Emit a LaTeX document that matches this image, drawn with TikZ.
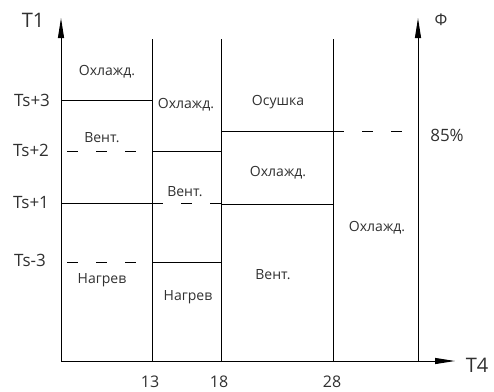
\documentclass[tikz,border=0pt]{standalone}
\usepackage{fontspec}
\setmainfont{Open Sans}
\usetikzlibrary{arrows.meta}
\definecolor{txt}{HTML}{303030}
\tikzset{
  ln/.style={line width=1pt, black},
  dsh/.style={line width=1pt, black, dash pattern=on 11pt off 18pt},
  ax/.style={line width=1pt, black, -{Triangle[length=20pt,width=6pt]}},
  lbl/.style={text=txt, font=\fontsize{14}{16}\selectfont, inner sep=0pt},
  tick/.style={text=txt, font=\fontsize{17}{19}\selectfont, inner sep=0pt},
  num/.style={text=txt, font=\fontsize{16}{18}\selectfont, inner sep=0pt, anchor=base},
  big/.style={text=txt, font=\fontsize{20}{22}\selectfont, inner sep=0pt},
}
\begin{document}
\begin{tikzpicture}[x=1pt,y=-1pt]
\useasboundingbox (0,0) rectangle (494,391);
% axes
\coordinate (O) at (61,361);
\coordinate (Ytop) at (61,18);
\coordinate (Xend) at (455,361);
\coordinate (R0) at (418,361);
\coordinate (Rtop) at (418,18);
\draw[ax] (O) -- (Ytop);
\draw[ax] (O) -- (Xend);
\draw[ax] (R0) -- (Rtop);
% vertical boundaries
\draw[ln] (152,39) -- (152,361);
\draw[ln] (221,39) -- (221,361);
\draw[ln] (333,39) -- (333,361);
% horizontal boundaries, column 1
\draw[ln] (61,100) -- (152,100);
\draw[dsh] (67,151) -- (138,151);
\draw[ln] (61,203) -- (152,203);
\draw[dsh] (67,262) -- (138,262);
% column 2
\draw[ln] (152,151) -- (221,151);
\draw[dsh] (152,203) -- (221,203);
\draw[ln] (152,262) -- (221,262);
% column 3
\draw[ln] (221,131) -- (344,131);
\draw[dsh] (333,131) -- (403,131);
\draw[ln] (221,204.5) -- (333,204.5);
% axis labels
\node[big] (t1) at (33,20) {T1};
\node[big] (t4) at (477,365) {T4};
\node[text=txt, font=\fontsize{16}{18}\selectfont, inner sep=0pt] (phi) at (441,20) {Ф};
\node[tick] (p85) at (447,135) {85\%};
\node[tick] (ts3) at (32,100) {Ts+3};
\node[tick] (ts2) at (31,150) {Ts+2};
\node[tick] (ts1) at (31,203) {Ts+1};
\node[tick] (tsm3) at (30,260) {Ts-3};
\node[num] (n13) at (150,387) {13};
\node[num] (n18) at (219,387) {18};
\node[num] (n28) at (332,387) {28};
% cell labels
\node[lbl] (c1a) at (107,72) {Охлажд.};
\node[lbl] (c1b) at (102,138) {Вент.};
\node[lbl] (c1c) at (102,280) {Нагрев};
\node[lbl] (c2a) at (186,105) {Охлажд.};
\node[lbl] (c2b) at (185,192) {Вент.};
\node[lbl] (c2c) at (188,297) {Нагрев};
\node[lbl] (c3a) at (278,102) {Осушка};
\node[lbl] (c3b) at (278,173) {Охлажд.};
\node[lbl] (c3c) at (273,275) {Вент.};
\node[lbl] (c4a) at (377,228) {Охлажд.};
\end{tikzpicture}
\end{document}
